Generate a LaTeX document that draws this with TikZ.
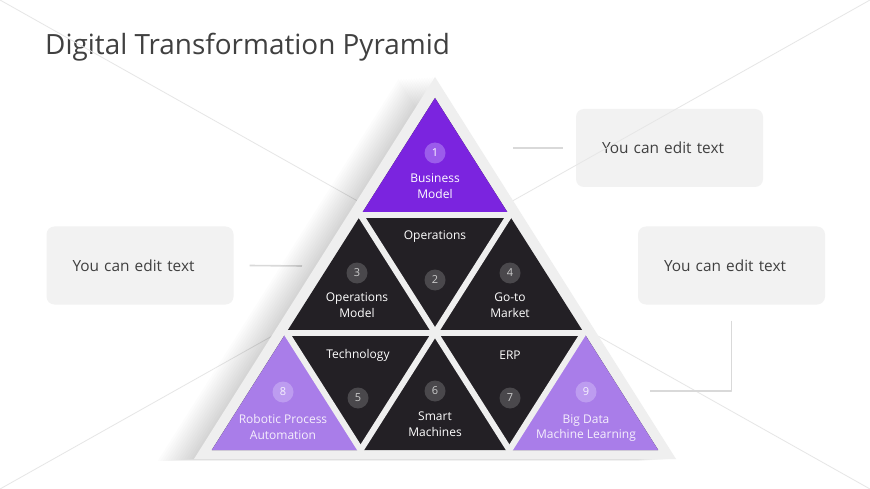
\documentclass[tikz,border=0pt]{standalone}
\usepackage{fontspec}
\setmainfont{Open Sans}
\definecolor{purpleA}{HTML}{7B24DF}
\definecolor{purpleB}{HTML}{A97DE9}
\definecolor{darktri}{HTML}{232025}
\definecolor{dotA}{HTML}{9B5CEB}
\definecolor{dotD}{HTML}{4A484C}
\definecolor{dotB}{HTML}{BD9CF0}
\definecolor{bordergray}{HTML}{EFEFEF}
\definecolor{boxgray}{HTML}{F2F2F2}
\definecolor{titlegray}{HTML}{404040}
\definecolor{linkgray}{HTML}{D9D9D9}
\definecolor{raygray}{HTML}{E6E6E6}

\begin{document}
\begin{tikzpicture}[x=1pt,y=-1pt,line cap=round,line join=round,
	box/.style={rounded corners=8pt,fill=boxgray,minimum height=78pt,text width=135pt,inner xsep=26pt,align=left,text=titlegray,font=\fontsize{15.4}{18}\selectfont},
	numdot/.style={circle,minimum size=21pt,inner sep=0pt,font=\fontsize{11}{13}\selectfont},
	lbl/.style={align=center,text=white,inner sep=0pt,font=\fontsize{12}{15.5}\selectfont},
	gap/.style={draw=bordergray,line width=6pt},
	link/.style={draw=linkgray,line width=1.6pt,line cap=butt},
	ray/.style={draw=raygray,line width=0.8pt}]%金字塔
	\useasboundingbox (0,0) rectangle (870,489);
	\fill[white] (0,0) rectangle (870,489);
	\node[anchor=base west,inner sep=0pt,text=titlegray,font=\fontsize{27.9}{32}\selectfont] (title) at (45,55) {Digital Transformation Pyramid};
	\node[box] (box1) at (669.5,148) {You can edit text};
	\node[box] (box2) at (731.5,265.5) {You can edit text};
	\node[box] (box3) at (140,265.5) {You can edit text};
	\draw[ray] (0,0) -- (870,489);
	\draw[ray] (870,0) -- (0,489);
	\coordinate (pT) at (513,148);
	\coordinate (pL) at (302,266);
	\coordinate (pR) at (650,391);
	\draw[link,shorten >=13pt] (pT) -- (box1.west);
	\draw[link] ([xshift=16pt]box3.east) -- (pL);
	\draw[link] ([yshift=-16pt]box2.south) |- (pR);
	\foreach \s in {1,...,14}
		\fill[black,opacity=0.011,shift={(-2.6*\s,0.15*\s)}] (435,77) -- (194,459) -- (676,459) -- cycle;
	\fill[bordergray] (435,77) -- (194,459) -- (676,459) -- cycle;
	\coordinate (a) at (435,98);
	\coordinate (b1) at (360.6,215.3);
	\coordinate (b2) at (509.4,215.3);
	\coordinate (c1) at (286.2,332.7);
	\coordinate (c2) at (435,332.7);
	\coordinate (c3) at (583.8,332.7);
	\coordinate (d1) at (211.8,450);
	\coordinate (d2) at (360.6,450);
	\coordinate (d3) at (509.4,450);
	\coordinate (d4) at (658.2,450);
	\fill[darktri] (a) -- (d1) -- (d4) -- cycle;
	\fill[purpleA] (a) -- (b1) -- (b2) -- cycle;
	\fill[purpleB] (c1) -- (d1) -- (d2) -- cycle;
	\fill[purpleB] (c3) -- (d3) -- (d4) -- cycle;
	\draw[gap] (b1) -- (b2);
	\draw[gap] (c1) -- (c3);
	\draw[gap] (b2) -- (d2);
	\draw[gap] (c3) -- (d3);
	\draw[gap] (b1) -- (d3);
	\draw[gap] (c1) -- (d2);
	\node[numdot,fill=dotA,text=white] (n1) at (435,153) {1};
	\node[lbl] (l1) at (435,186) {Business\\Model};
	\node[lbl] (l2) at (435,237) {Operations};
	\node[numdot,fill=dotD,text=white!80!black] (n2) at (435,280) {2};
	\node[numdot,fill=dotD,text=white!80!black] (n3) at (357,273) {3};
	\node[lbl] (l3) at (357,305) {Operations\\Model};
	\node[numdot,fill=dotD,text=white!80!black] (n4) at (510,273) {4};
	\node[lbl] (l4) at (510,305) {Go-to\\Market};
	\node[lbl] (l5) at (358,355) {Technology};
	\node[numdot,fill=dotD,text=white!80!black] (n5) at (358,398) {5};
	\node[numdot,fill=dotD,text=white!80!black] (n6) at (435,391) {6};
	\node[lbl] (l6) at (435,424) {Smart\\Machines};
	\node[lbl] (l7) at (510,355) {ERP};
	\node[numdot,fill=dotD,text=white!80!black] (n7) at (510,398) {7};
	\node[numdot,fill=dotB,text=white!90!purpleB] (n8) at (283,392) {8};
	\node[lbl,text=white!88!purpleB] (l8) at (283,427) {Robotic Process\\Automation};
	\node[numdot,fill=dotB,text=white!90!purpleB] (n9) at (586,392) {9};
	\node[lbl,text=white!88!purpleB] (l9) at (586,428) {Big Data\\Machine Learning};
\end{tikzpicture}
\end{document}
